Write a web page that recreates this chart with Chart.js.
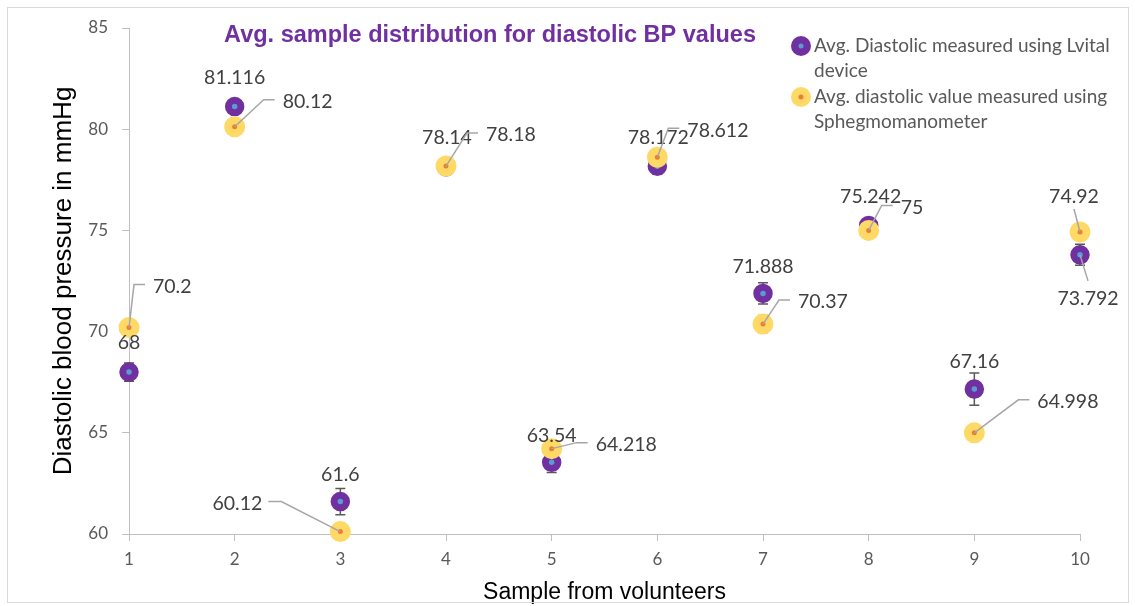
<!DOCTYPE html>
<html>
<head>
<meta charset="utf-8">
<script src="https://cdn.jsdelivr.net/npm/chart.js@4.4.1/dist/chart.umd.min.js"></script>
<style>
  html, body { margin: 0; padding: 0; background: #fff; }
</style>
</head>
<body>
<canvas id="bp-chart" width="1135" height="606"></canvas>
<script>
// 数据
const samples = [1, 2, 3, 4, 5, 6, 7, 8, 9, 10];
const lvitalValues = [68, 81.116, 61.6, 78.14, 63.54, 78.172, 71.888, 75.242, 67.16, 73.792];
const sphygValues = [70.2, 80.12, 60.12, 78.18, 64.218, 78.612, 70.37, 75, 64.998, 74.92];
const lvitalErrors = [0.45, 0.3, 0.65, 0.3, 0.5, 0.4, 0.52, 0.3, 0.8, 0.52];
const sphygErrors = [0.3, 0.3, 0.3, 0.3, 0.3, 0.3, 0.42, 0.3, 0.3, 0.3];
const yTicks = [60, 65, 70, 75, 80, 85];

const chartTitle = 'Avg. sample distribution for diastolic BP values';
const lvitalName = ['Avg. Diastolic measured using Lvital', 'device'];
const sphygName = ['Avg. diastolic value measured using', 'Sphegmomanometer'];

const PURPLE = '#7030A0';
const BLUE = '#5B9BD5';
const YELLOW = '#FFD966';
const ORANGE = '#ED7D31';
const TEXT = '#404040';
const AXIS_TEXT = '#595959';
const AXIS_LINE = '#BFBFBF';

// 数据标签位置 (相对点的像素偏移)
const lvitalLabelPos = [
    { dx: 0, dy: -29 }, { dx: 0, dy: -29 }, { dx: 0, dy: -27 }, { dx: 1, dy: -29 },
    { dx: 0, dy: -27 }, { dx: 1, dy: -28 }, { dx: 0, dy: -27 }, { dx: 2, dy: -29 },
    { dx: 0, dy: -27 }, { dx: 8, dy: 44, leader: true }
];
const sphygLabelPos = [
    { dx: 24, dy: -41, align: 'left', leader: true },
    { dx: 48, dy: -25, align: 'left', leader: true },
    { dx: -78, dy: -28, align: 'right', leader: true },
    { dx: 40, dy: -31, align: 'left', leader: true },
    { dx: 44, dy: -4, align: 'left', leader: true },
    { dx: 30, dy: -27, align: 'left', leader: true },
    { dx: 35, dy: -22, align: 'left', leader: true },
    { dx: 32, dy: -23, align: 'left', leader: true },
    { dx: 63, dy: -31, align: 'left', leader: true },
    { dx: -6, dy: -35, leader: true }
];

function toPoints(values) {
    return samples.map((s, i) => ({ x: s, y: values[i] }));
}

// 误差线
const errorBarPlugin = {
    id: 'errorBars',
    beforeDatasetsDraw(chart) {
        const { ctx, scales: { x, y } } = chart;
        const sets = [[lvitalValues, lvitalErrors], [sphygValues, sphygErrors]];
        ctx.save();
        ctx.strokeStyle = '#595959';
        ctx.lineWidth = 1.5;
        sets.forEach(([vals, errs]) => {
            vals.forEach((v, i) => {
                const px = x.getPixelForValue(samples[i]);
                const top = y.getPixelForValue(v + errs[i]);
                const bot = y.getPixelForValue(v - errs[i]);
                ctx.beginPath();
                ctx.moveTo(px, top); ctx.lineTo(px, bot);
                ctx.moveTo(px - 5, top); ctx.lineTo(px + 5, top);
                ctx.moveTo(px - 5, bot); ctx.lineTo(px + 5, bot);
                ctx.stroke();
            });
        });
        ctx.restore();
    }
};

// 标签、标题、图例
const annotatePlugin = {
    id: 'annotate',
    afterDatasetsDraw(chart) {
        const { ctx, scales: { x, y } } = chart;
        ctx.save();

        const drawLabels = (vals, pos) => {
            vals.forEach((v, i) => {
                const px = x.getPixelForValue(samples[i]);
                const py = y.getPixelForValue(v);
                const p = pos[i];
                const lx = px + p.dx, ly = py + p.dy;
                const align = p.align || 'center';
                if (p.leader) {
                    ctx.strokeStyle = '#A6A6A6';
                    ctx.lineWidth = 1.5;
                    ctx.beginPath();
                    ctx.moveTo(px, py);
                    if (align === 'left') {
                        ctx.lineTo(lx - 19, ly - 2);
                        ctx.lineTo(lx - 8, ly - 2);
                    } else if (align === 'right') {
                        ctx.lineTo(lx + 19, ly - 2);
                        ctx.lineTo(lx + 6, ly - 2);
                    } else {
                        ctx.lineTo(lx, p.dy < 0 ? ly + 12 : ly - 18);
                    }
                    ctx.stroke();
                }
                ctx.fillStyle = TEXT;
                ctx.font = '19.5px Lato';
                ctx.textAlign = align;
                ctx.textBaseline = 'middle';
                ctx.fillText(String(v), lx, ly);
            });
        };
        drawLabels(lvitalValues, lvitalLabelPos);
        drawLabels(sphygValues, sphygLabelPos);

        // 标题
        ctx.fillStyle = PURPLE;
        ctx.font = 'bold 23.5px "Liberation Sans"';
        ctx.textAlign = 'center';
        ctx.textBaseline = 'middle';
        ctx.fillText(chartTitle, 490, 36);

        // 图例
        const marker = (cx, cy, outer, inner) => {
            ctx.beginPath(); ctx.arc(cx, cy, 10, 0, Math.PI * 2);
            ctx.fillStyle = outer; ctx.fill();
            ctx.beginPath(); ctx.arc(cx, cy, 2.5, 0, Math.PI * 2);
            ctx.fillStyle = inner; ctx.fill();
        };
        marker(801, 46, PURPLE, BLUE);
        marker(801, 97, YELLOW, ORANGE);
        ctx.fillStyle = AXIS_TEXT;
        ctx.font = '19px Lato';
        ctx.textAlign = 'left';
        ctx.fillText(lvitalName[0], 814, 46);
        ctx.fillText(lvitalName[1], 814, 71);
        ctx.fillText(sphygName[0], 814, 97);
        ctx.fillText(sphygName[1], 814, 122);

        ctx.restore();
    },
    afterDraw(chart) {
        const { ctx } = chart;
        ctx.save();
        ctx.strokeStyle = '#D9D9D9';
        ctx.lineWidth = 1;
        ctx.strokeRect(7.5, 7.5, 1121, 595);
        ctx.restore();
    }
};

new Chart(document.getElementById('bp-chart'), {
    type: 'scatter',
    data: {
        datasets: [
            {
                label: lvitalName.join(' '),
                data: toPoints(lvitalValues),
                pointRadius: 6.25,
                pointHoverRadius: 6.25,
                borderWidth: 7,
                pointBorderWidth: 7,
                borderColor: PURPLE,
                backgroundColor: BLUE,
                order: 1,
                clip: false
            },
            {
                label: sphygName.join(' '),
                data: toPoints(sphygValues),
                pointRadius: 6.5,
                pointHoverRadius: 6.5,
                borderWidth: 8,
                pointBorderWidth: 8,
                borderColor: YELLOW,
                backgroundColor: ORANGE,
                order: 0,
                clip: false
            }
        ]
    },
    options: {
        responsive: false,
        animation: false,
        devicePixelRatio: 1,
        layout: {
            autoPadding: false,
            padding: { left: 0, right: 55, top: 28, bottom: 0 }
        },
        plugins: {
            legend: { display: false },
            tooltip: { enabled: false },
            title: { display: false }
        },
        scales: {
            x: {
                type: 'linear',
                min: 1,
                max: 10,
                afterFit: s => { s.height = 72; },
                afterBuildTicks: s => { s.ticks = samples.map(v => ({ value: v })); },
                ticks: {
                    color: AXIS_TEXT,
                    font: { family: 'Lato', size: 17 },
                    padding: 8
                },
                grid: { drawOnChartArea: false, color: AXIS_LINE, tickLength: 7 },
                border: { color: AXIS_LINE, width: 1 },
                title: {
                    display: true,
                    text: 'Sample from volunteers',
                    color: '#000',
                    font: { family: 'Liberation Sans', size: 23 },
                    padding: { top: 0, bottom: 0 }
                }
            },
            y: {
                type: 'linear',
                min: 60,
                max: 85,
                afterFit: s => { s.width = 129; },
                afterBuildTicks: s => { s.ticks = yTicks.map(v => ({ value: v })); },
                ticks: {
                    color: AXIS_TEXT,
                    font: { family: 'Lato', size: 17 },
                    padding: 14
                },
                grid: { drawOnChartArea: false, color: AXIS_LINE, tickLength: 7 },
                border: { color: AXIS_LINE, width: 1 },
                title: {
                    display: true,
                    text: 'Diastolic blood pressure in mmHg',
                    color: '#000',
                    font: { family: 'Liberation Sans', size: 26 },
                    padding: { top: 48, bottom: 0 }
                }
            }
        }
    },
    plugins: [errorBarPlugin, annotatePlugin]
});
</script>
</body>
</html>
